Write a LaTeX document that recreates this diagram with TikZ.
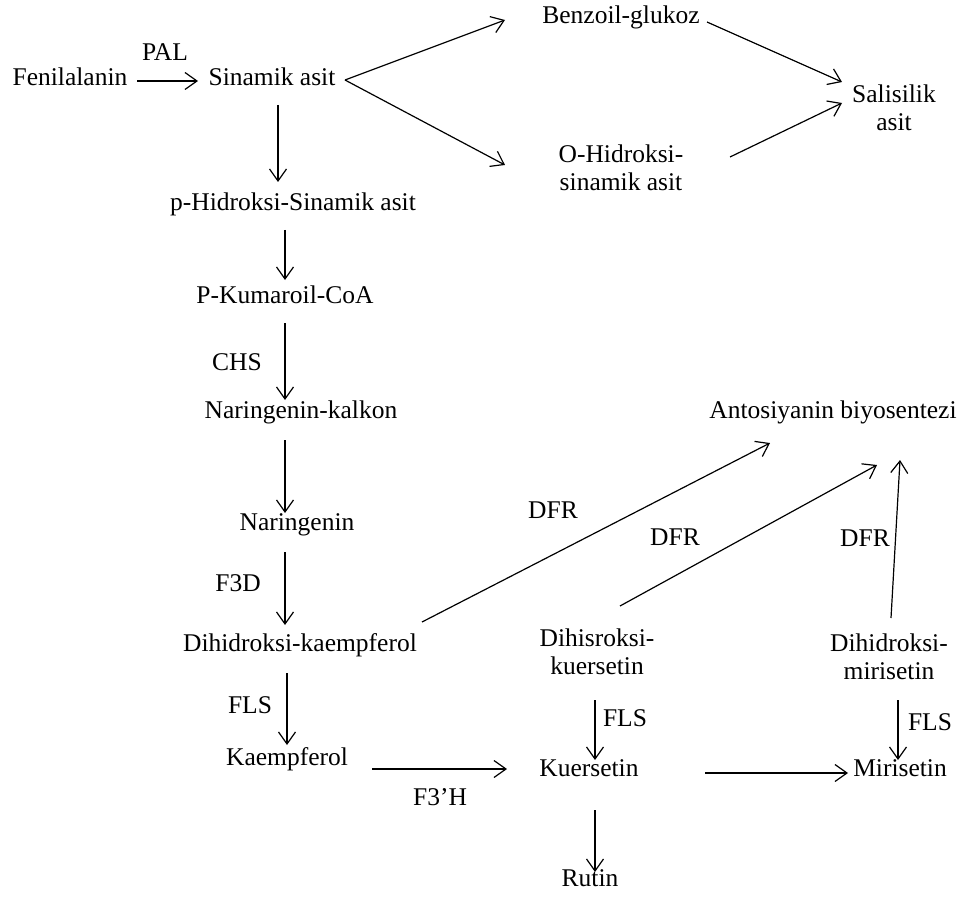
\documentclass[tikz,border=0pt]{standalone}
\usepackage{fontspec}
\setmainfont{Liberation Serif}
\usetikzlibrary{arrows.meta}
\begin{document}
\begin{tikzpicture}[x=1pt,y=-1pt,
  lbl/.style={inner sep=0pt, font=\fontsize{25.5}{28}\selectfont, text height=0.68em, text depth=0.02em},
  two/.style={lbl, align=center, text height=, text depth=},
  arr/.style={line width=1.2pt, -{Straight Barb[length=12pt,width=17pt,line width=1.2pt]}}]
\useasboundingbox (0,0) rectangle (963,901);
% nodes
\node[lbl] (fen) at (70,82) {Fenilalanin};
\node[lbl] (pal) at (165,57) {PAL};
\node[lbl] (sin) at (272,82) {Sinamik asit};
\node[lbl] (ben) at (621,20) {Benzoil-glukoz};
\node[two] (sal) at (894,108) {Salisilik\\asit};
\node[two] (ohid) at (621,168) {O-Hidroksi-\\sinamik asit};
\node[lbl] (phid) at (293,207) {p-Hidroksi-Sinamik asit};
\node[lbl] (pkum) at (285,300) {P-Kumaroil-CoA};
\node[lbl] (chs) at (237,367) {CHS};
\node[lbl] (nkal) at (301,415) {Naringenin-kalkon};
\node[lbl] (nar) at (297,527) {Naringenin};
\node[lbl] (f3d) at (238,588) {F3D};
\node[lbl] (dhk) at (300,648) {Dihidroksi-kaempferol};
\node[lbl] (fls1) at (250,710) {FLS};
\node[lbl] (kae) at (287,762) {Kaempferol};
\node[lbl] (f3h) at (440,802) {F3'H};
\node[two] (dhq) at (597,652) {Dihisroksi-\\kuersetin};
\node[two] (dhm) at (889,657) {Dihidroksi-\\mirisetin};
\node[lbl] (fls2) at (625,723) {FLS};
\node[lbl] (fls3) at (930,727) {FLS};
\node[lbl] (kue) at (589,773) {Kuersetin};
\node[lbl] (mir) at (900,773) {Mirisetin};
\node[lbl] (rut) at (590,883) {Rutin};
\node[lbl] (ant) at (833,415) {Antosiyanin biyosentezi};
\node[lbl] (dfr1) at (553,515) {DFR};
\node[lbl] (dfr2) at (675,542) {DFR};
\node[lbl] (dfr3) at (865,543) {DFR};
% connector end points
\coordinate (a1) at (137,81);  \coordinate (a2) at (198,81);
\coordinate (b0) at (345,80);  \coordinate (b1) at (505,20); \coordinate (b2) at (505,165);
\coordinate (c1) at (707,22);  \coordinate (c2) at (842,82);
\coordinate (d1) at (730,157); \coordinate (d2) at (842,103);
\coordinate (e1) at (278,105); \coordinate (e2) at (278,182);
\coordinate (f1) at (285,230); \coordinate (f2) at (285,280);
\coordinate (g1) at (285,323); \coordinate (g2) at (285,400);
\coordinate (h1) at (285,440); \coordinate (h2) at (285,513);
\coordinate (i1) at (285,552); \coordinate (i2) at (285,625);
\coordinate (j1) at (287,673); \coordinate (j2) at (287,745);
\coordinate (k1) at (372,769); \coordinate (k2) at (507,769);
\coordinate (l1) at (705,773); \coordinate (l2) at (848,773);
\coordinate (m1) at (595,700); \coordinate (m2) at (595,760);
\coordinate (n1) at (898,700); \coordinate (n2) at (898,760);
\coordinate (o1) at (595,810); \coordinate (o2) at (595,872);
\coordinate (p1) at (422,622); \coordinate (p2) at (770,443);
\coordinate (q1) at (620,606); \coordinate (q2) at (877,465);
\coordinate (r1) at (891,618); \coordinate (r2) at (900,460);
% connectors
\draw[arr] (a1) -- (a2);
\draw[arr] (b0) -- (b1);
\draw[arr] (b0) -- (b2);
\draw[arr] (c1) -- (c2);
\draw[arr] (d1) -- (d2);
\draw[arr] (e1) -- (e2);
\draw[arr] (f1) -- (f2);
\draw[arr] (g1) -- (g2);
\draw[arr] (h1) -- (h2);
\draw[arr] (i1) -- (i2);
\draw[arr] (j1) -- (j2);
\draw[arr] (k1) -- (k2);
\draw[arr] (l1) -- (l2);
\draw[arr] (m1) -- (m2);
\draw[arr] (n1) -- (n2);
\draw[arr] (o1) -- (o2);
\draw[arr] (p1) -- (p2);
\draw[arr] (q1) -- (q2);
\draw[arr] (r1) -- (r2);
\end{tikzpicture}
\end{document}
